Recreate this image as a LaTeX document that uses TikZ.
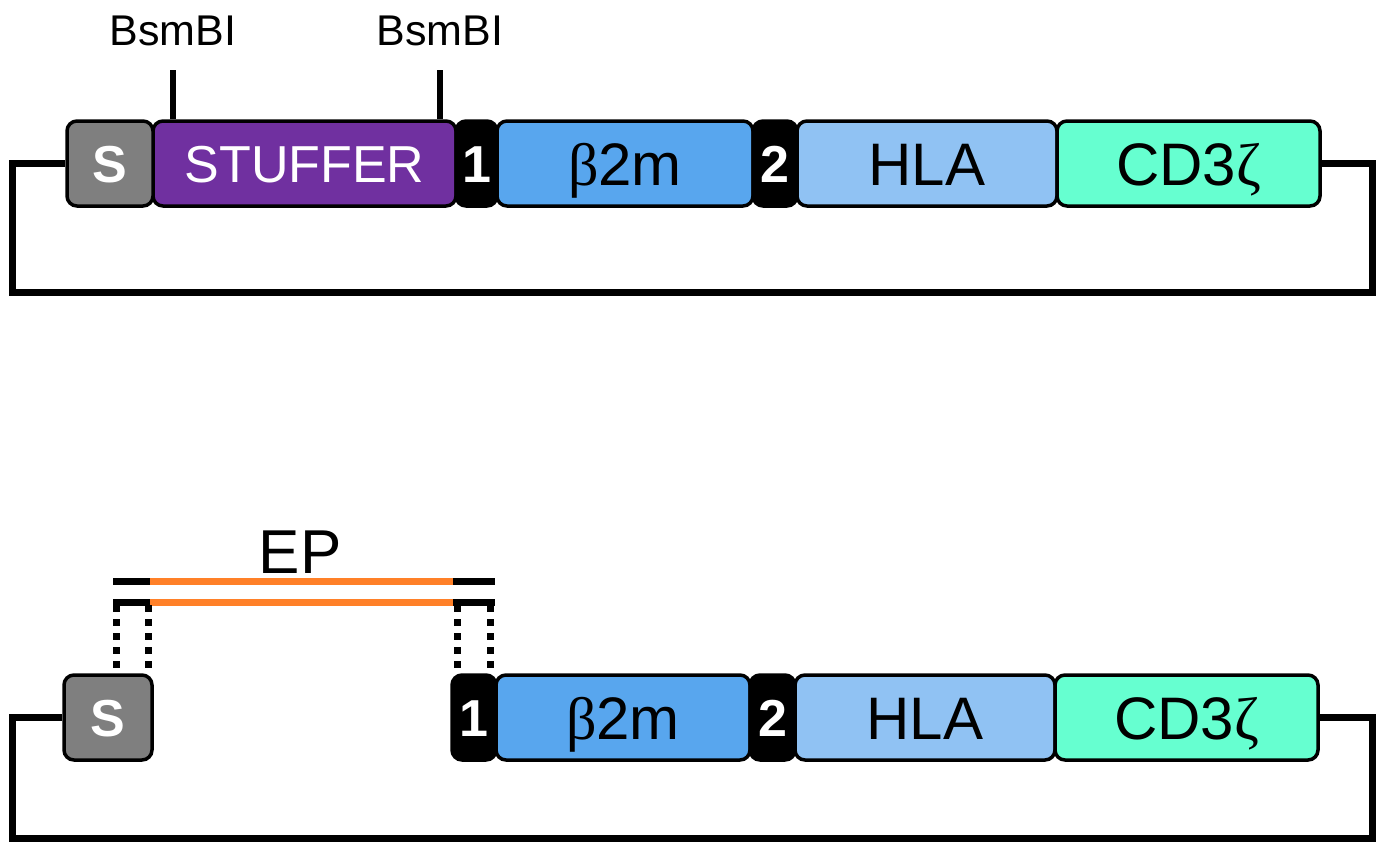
\documentclass[tikz,border=0pt]{standalone}
\usepackage{fontspec}
\setmainfont{Liberation Sans}
\newfontfamily\grk{Liberation Serif}
\definecolor{sgray}{HTML}{7F7F7F}
\definecolor{stuff}{HTML}{7030A0}
\definecolor{btwo}{HTML}{58A6EE}
\definecolor{hla}{HTML}{90C2F3}
\definecolor{cdz}{HTML}{66FFD0}
\definecolor{orng}{HTML}{FF8028}
\begin{document}
\begin{tikzpicture}[x=1pt,y=-1pt,
  box/.style={draw=black,line width=3.5pt,rounded corners=10pt,minimum height=85pt,inner sep=0pt,anchor=center},
  big/.style={font=\fontsize{60}{64}\selectfont,text height=43pt,text depth=0pt},
  mid/.style={font=\fontsize{52}{56}\selectfont,text height=37pt,text depth=0pt},
  bld/.style={font=\fontsize{52}{56}\selectfont\bfseries,text=white,text height=37pt,text depth=0pt},
  lbl/.style={font=\fontsize{43}{47}\selectfont},
  loopline/.style={line width=7pt,line join=miter},
  tick/.style={line width=6.5pt},
  strand/.style={line width=7pt},
  dots/.style={line width=7pt,dash pattern=on 7pt off 7pt}]
\useasboundingbox (0,0) rectangle (1383,846);
% ---------- top construct ----------
\node[box,fill=stuff,minimum width=303pt,mid,text=white] (st1) at (304.5,163.5) {STUFFER};
\node[box,fill=sgray,minimum width=86pt,bld] (s1) at (110,163.5) {S};
\node[box,fill=btwo,minimum width=256pt,big] (b1) at (625,163.5) {{\grk β}2m};
\node[box,fill=black,minimum width=41pt,bld] (o1) at (476.5,163.5) {1};
\node[box,fill=hla,minimum width=260pt,big] (h1) at (927,163.5) {HLA};
\node[box,fill=black,minimum width=44pt,bld] (t1) at (775,163.5) {2};
\node[box,fill=cdz,minimum width=263pt,big] (c1) at (1188.5,163.5) {CD3{\grk ζ}};
\coordinate (la1) at (12,292);
\coordinate (ra1) at (1372,163.5);
\draw[loopline] (s1.west) -| (la1) -| (ra1) -- (c1.east);
% BsmBI sites
\node[lbl,anchor=base] (bs1) at (173,45) {BsmBI};
\node[lbl,anchor=base] (bs2) at (440,45) {BsmBI};
\coordinate (k1a) at (173,70);
\coordinate (k2a) at (440,70);
\draw[tick] (k1a) -- (k1a |- st1.north);
\draw[tick] (k2a) -- (k2a |- st1.north);
% ---------- bottom construct ----------
\node[box,fill=sgray,minimum width=88pt,bld] (s2) at (108,717.5) {S};
\node[box,fill=btwo,minimum width=254pt,big] (b2) at (623,717.5) {{\grk β}2m};
\node[box,fill=black,minimum width=44pt,bld] (o2) at (474,717.5) {1};
\node[box,fill=hla,minimum width=260pt,big] (h2) at (925,717.5) {HLA};
\node[box,fill=black,minimum width=45pt,bld] (t2) at (772.5,717.5) {2};
\node[box,fill=cdz,minimum width=263pt,big] (c2) at (1186.5,717.5) {CD3{\grk ζ}};
\coordinate (la2) at (12,838);
\coordinate (ra2) at (1372,717.5);
\draw[loopline] (s2.west) -| (la2) -| (ra2) -- (c2.east);
% EP fragment
\node[font=\fontsize{62}{66}\selectfont] (ep) at (300,552) {EP};
\coordinate (u1) at (113,581);
\coordinate (u2) at (150,581);
\coordinate (u3) at (453,581);
\coordinate (u4) at (495,581);
\coordinate (d1) at (113,602);
\coordinate (d2) at (150,602);
\coordinate (d3) at (453,602);
\coordinate (d4) at (495,602);
\draw[strand,orng] (u2) -- (u3);
\draw[strand,orng] (d2) -- (d3);
\draw[strand] (u1) -- (u2);
\draw[strand] (u3) -- (u4);
\draw[strand] (d1) -- (d2);
\draw[strand] (d3) -- (d4);
\coordinate (v1) at (116,605);
\coordinate (v2) at (148,605);
\coordinate (v3) at (457,605);
\coordinate (v4) at (490,605);
\draw[dots] (v1) -- (v1 |- s2.north);
\draw[dots] (v2) -- (v2 |- s2.north);
\draw[dots] (v3) -- (v3 |- o2.north);
\draw[dots] (v4) -- (v4 |- o2.north);
\end{tikzpicture}
\end{document}
